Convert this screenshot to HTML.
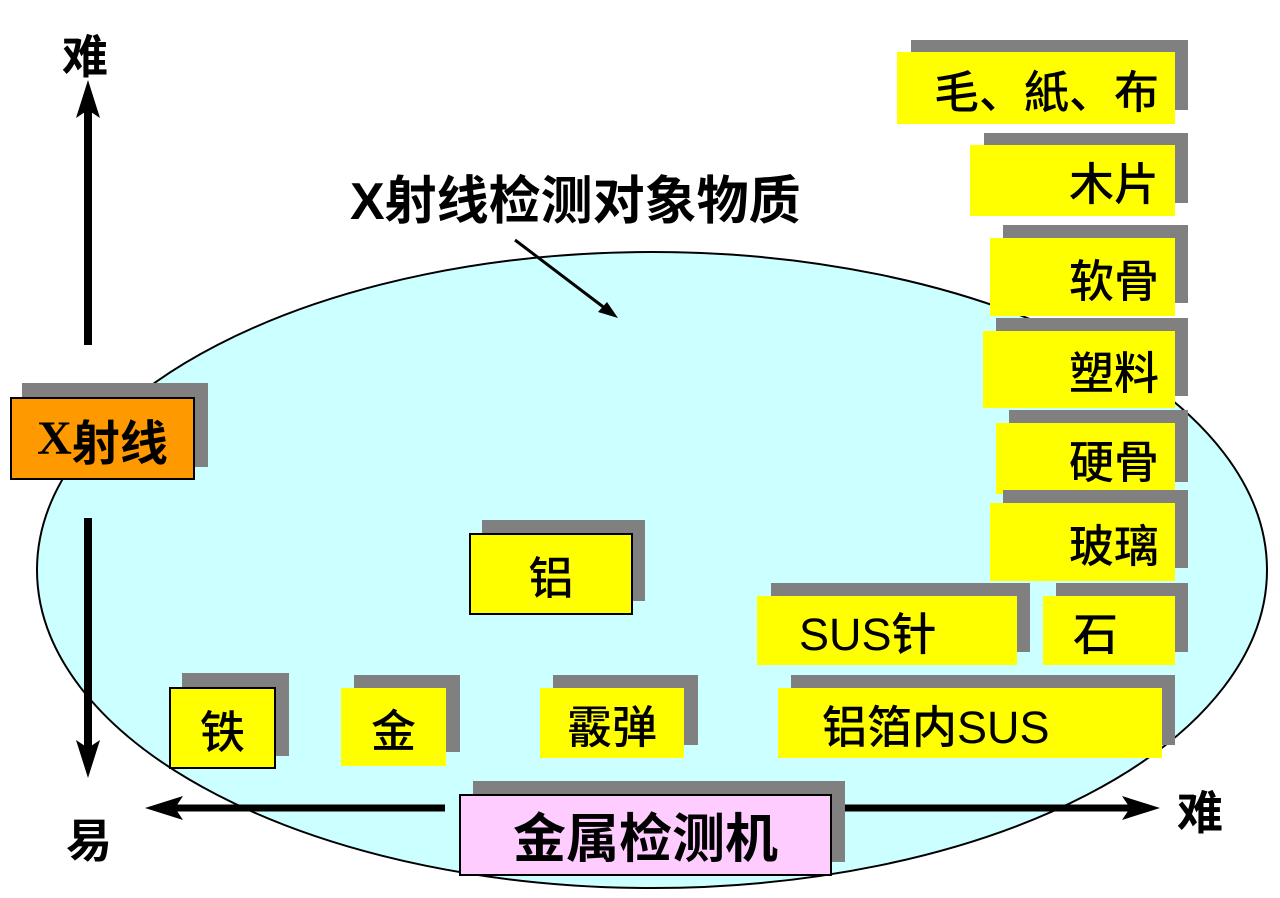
<!DOCTYPE html>
<html><head><meta charset="utf-8"><style>
body{margin:0;width:1280px;height:898px;background:#fff;position:relative;overflow:hidden;font-family:"Liberation Sans","Noto Sans CJK SC",sans-serif;}
.s{position:absolute;background:#808080;}
.b{position:absolute;background:#ffff00;box-sizing:border-box;display:flex;align-items:center;font-size:45px;color:#000;font-weight:500;}
.r{justify-content:flex-end;padding-right:16px;}
.c{justify-content:center;}
.bd{border:2px solid #000;}
.t{position:absolute;font-weight:bold;color:#000;line-height:1;}
</style></head><body>
<svg width="1280" height="898" style="position:absolute;left:0;top:0">
<ellipse cx="652" cy="570" rx="615" ry="318" fill="#ccffff" stroke="#000" stroke-width="2"/>
<line x1="88" y1="345" x2="88" y2="110" stroke="#000" stroke-width="8"/>
<polygon points="88,80 76,118 88,110 100,118" fill="#000"/>
<line x1="88" y1="518" x2="88" y2="748" stroke="#000" stroke-width="8"/>
<polygon points="88,778 76,740 88,748 100,740" fill="#000"/>
<line x1="445" y1="808" x2="175" y2="808" stroke="#000" stroke-width="7"/>
<polygon points="145,808 183,796 175,808 183,820" fill="#000"/>
<line x1="845" y1="808" x2="1130" y2="808" stroke="#000" stroke-width="7"/>
<polygon points="1160,808 1122,796 1130,808 1122,820" fill="#000"/>
<line x1="515" y1="240" x2="606" y2="309" stroke="#000" stroke-width="3"/>
<polygon points="618,318 598,312 607,302" fill="#000"/>
</svg>
<div class="t" style="left:62px;top:34px;font-size:46px">难</div>
<div class="t" style="left:66px;top:818px;font-size:46px">易</div>
<div class="t" style="left:1177px;top:790px;font-size:46px">难</div>
<div class="t" style="left:350px;top:176px;font-size:52px">X射线检测对象物质</div>

<div class="s" style="left:911px;top:40px;width:277px;height:70px"></div>
<div class="b r" style="left:897px;top:52px;width:278px;height:72px">毛、紙、布</div>
<div class="s" style="left:984px;top:133px;width:204px;height:70px"></div>
<div class="b r" style="left:970px;top:145px;width:205px;height:71px">木片</div>
<div class="s" style="left:1003px;top:225px;width:185px;height:78px"></div>
<div class="b r" style="left:990px;top:238px;width:185px;height:78px">软骨</div>
<div class="s" style="left:996px;top:318px;width:192px;height:78px"></div>
<div class="b r" style="left:983px;top:331px;width:192px;height:77px">塑料</div>
<div class="s" style="left:1009px;top:410px;width:179px;height:72px"></div>
<div class="b r" style="left:996px;top:423px;width:179px;height:71px">硬骨</div>
<div class="s" style="left:1003px;top:490px;width:185px;height:78px"></div>
<div class="b r" style="left:990px;top:503px;width:185px;height:78px">玻璃</div>
<div class="s" style="left:771px;top:583px;width:259px;height:69px"></div>
<div class="b" style="left:757px;top:596px;width:260px;height:69px;padding-left:42px">SUS针</div>
<div class="s" style="left:1056px;top:583px;width:132px;height:69px"></div>
<div class="b" style="left:1043px;top:596px;width:132px;height:69px;padding-left:30px">石</div>
<div class="s" style="left:791px;top:675px;width:384px;height:70px"></div>
<div class="b" style="left:778px;top:688px;width:384px;height:70px;padding-left:44px">铝箔内SUS</div>
<div class="s" style="left:482px;top:520px;width:163px;height:81px"></div>
<div class="b c bd" style="left:469px;top:533px;width:164px;height:82px">铝</div>
<div class="s" style="left:182px;top:673px;width:107px;height:83px"></div>
<div class="b c bd" style="left:169px;top:687px;width:107px;height:82px">铁</div>
<div class="s" style="left:354px;top:675px;width:106px;height:77px"></div>
<div class="b c" style="left:341px;top:688px;width:105px;height:78px">金</div>
<div class="s" style="left:553px;top:675px;width:145px;height:70px"></div>
<div class="b c" style="left:540px;top:688px;width:144px;height:70px">霰弹</div>
<div class="s" style="left:473px;top:781px;width:372px;height:81px"></div>
<div class="b c bd" style="left:459px;top:794px;width:373px;height:82px;background:#ffccff;font-weight:bold;font-size:53px">金属检测机</div>
<div class="s" style="left:22px;top:383px;width:186px;height:84px"></div>
<div class="b c bd" style="left:10px;top:397px;width:185px;height:83px;background:#ff9900;font-weight:bold;font-size:48px"><span style="font-family:'Liberation Serif',serif">X</span>射线</div>
</body></html>
